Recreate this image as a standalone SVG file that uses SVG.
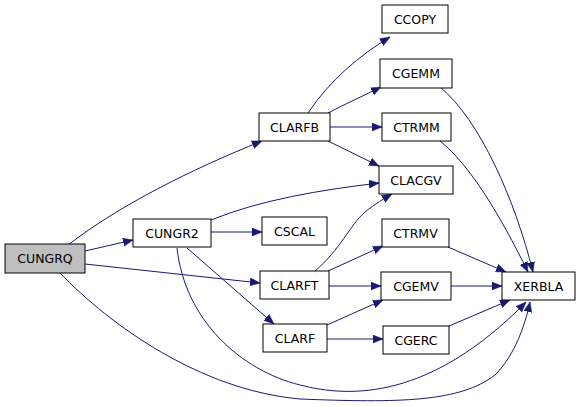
<svg xmlns="http://www.w3.org/2000/svg" width="581" height="407" viewBox="0 0 581 407">
<defs>
<marker id="ah" markerUnits="userSpaceOnUse" markerWidth="12" markerHeight="9" refX="10" refY="4.5" orient="auto">
<path d="M0,0.5 L10,4.5 L0,8.5 z" fill="#191970" stroke="#191970" stroke-width="0.5"/>
</marker>
<style>
.n rect{fill:#fff;stroke:#000;stroke-width:1}
.n text{font-family:"DejaVu Sans","Liberation Sans",sans-serif;font-size:12.5px;text-anchor:middle;fill:#000}
#edges path{fill:none;stroke:#191970;stroke-width:1;marker-end:url(#ah)}
</style>
</defs>
<rect width="581" height="407" fill="#fff"/>
<g id="edges">
<path d="M68,245 C120,205 190,170 262,141"/>
<path d="M85,251 L133,240"/>
<path d="M85,264 L260,283"/>
<path d="M60,273 C110,325 200,390 300,399 C400,403 460,402 495,375 C515,355 525,325 530,302"/>
<path d="M211,220 C260,200 320,190 379,183"/>
<path d="M211,232 L262,232"/>
<path d="M187,248 L274,324"/>
<path d="M177,248 C185,320 240,370 300,385 C350,398 430,400 526,302"/>
<path d="M308,113 C330,80 360,55 390,37"/>
<path d="M328,113 C345,104 365,95 381,87"/>
<path d="M330,127 L382,127"/>
<path d="M328,141 L379,166"/>
<path d="M315,271 C340,250 350,225 365,212 C375,204 385,198 392,194"/>
<path d="M328,271 L383,246"/>
<path d="M329,286 L381,286"/>
<path d="M327,325 L383,300"/>
<path d="M327,339 L383,339"/>
<path d="M440,87 C480,120 515,200 533,272"/>
<path d="M440,141 C470,165 500,215 528,272"/>
<path d="M448,247 L506,272"/>
<path d="M451,286 L502,286"/>
<path d="M449,326 L510,300"/>
</g>
<g id="CUNGRQ" class="n"><rect x="5" y="244" width="80" height="29" style="fill:#bfbfbf"/><text x="45" y="263">CUNGRQ</text></g>
<g id="CUNGR2" class="n"><rect x="133" y="219" width="78" height="28"/><text x="172" y="237.5">CUNGR2</text></g>
<g id="CLARFB" class="n"><rect x="259" y="113" width="71" height="28"/><text x="294.5" y="131.5">CLARFB</text></g>
<g id="CCOPY" class="n"><rect x="382" y="5" width="66" height="28"/><text x="415" y="23.5">CCOPY</text></g>
<g id="CGEMM" class="n"><rect x="380" y="59" width="72" height="29"/><text x="416" y="78">CGEMM</text></g>
<g id="CTRMM" class="n"><rect x="382" y="113" width="69" height="28"/><text x="416.5" y="131.5">CTRMM</text></g>
<g id="CLACGV" class="n"><rect x="379" y="166" width="74" height="28"/><text x="416" y="184.5">CLACGV</text></g>
<g id="CSCAL" class="n"><rect x="262" y="217" width="65" height="28"/><text x="294.5" y="235.5">CSCAL</text></g>
<g id="CTRMV" class="n"><rect x="382" y="219" width="67" height="28"/><text x="415.5" y="237.5">CTRMV</text></g>
<g id="CLARFT" class="n"><rect x="260" y="271" width="69" height="28"/><text x="294.5" y="289.5">CLARFT</text></g>
<g id="CGEMV" class="n"><rect x="381" y="272" width="70" height="28"/><text x="416" y="290.5">CGEMV</text></g>
<g id="CLARF" class="n"><rect x="263" y="324" width="64" height="28"/><text x="295" y="342.5">CLARF</text></g>
<g id="CGERC" class="n"><rect x="383" y="326" width="66" height="28"/><text x="416" y="344.5">CGERC</text></g>
<g id="XERBLA" class="n"><rect x="502" y="272" width="73" height="28"/><text x="538.5" y="290.5">XERBLA</text></g>
</svg>
